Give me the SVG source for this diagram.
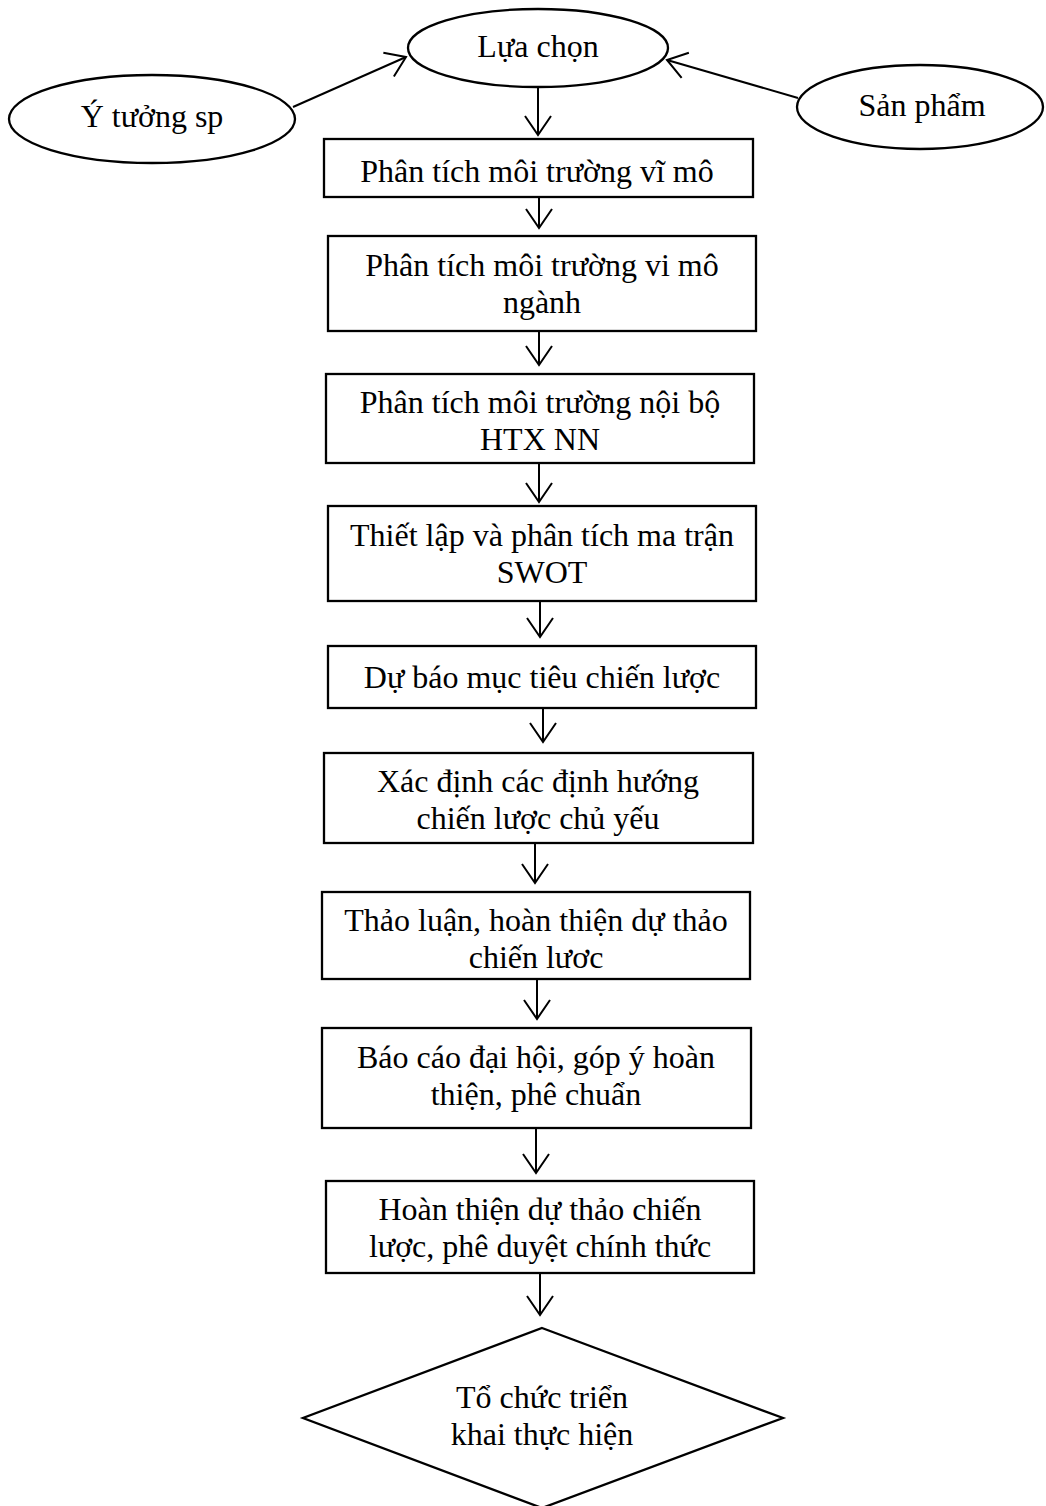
<svg xmlns="http://www.w3.org/2000/svg" width="1046" height="1506" viewBox="0 0 1046 1506">
  <style>
    .shape { fill: #ffffff; stroke: #000000; stroke-width: 2.3; }
    .label { font-family: "Liberation Serif", "Times New Roman", serif; font-size: 32px; fill: #000000; text-anchor: middle; }
    .link { fill: none; stroke: #000000; stroke-width: 2; }
  </style>
  <defs>
    <marker id="open-arrow" markerUnits="userSpaceOnUse" markerWidth="40" markerHeight="40" refX="0" refY="0" orient="auto" overflow="visible">
      <path d="M -19 -13 L 0 0 L -19 13" fill="none" stroke="#000000" stroke-width="2"/>
    </marker>
  </defs>
  <rect width="1046" height="1506" fill="#ffffff"/>

  <!-- connectors -->
  <g id="connectors">
    <line class="link" x1="293" y1="107" x2="406" y2="57" marker-end="url(#open-arrow)"/>
    <line class="link" x1="798" y1="98" x2="667" y2="60" marker-end="url(#open-arrow)"/>
    <line class="link" x1="538" y1="87" x2="538" y2="135" marker-end="url(#open-arrow)"/>
    <line class="link" x1="539" y1="197" x2="539" y2="228" marker-end="url(#open-arrow)"/>
    <line class="link" x1="539" y1="331" x2="539" y2="365" marker-end="url(#open-arrow)"/>
    <line class="link" x1="539" y1="463" x2="539" y2="502" marker-end="url(#open-arrow)"/>
    <line class="link" x1="540" y1="601" x2="540" y2="637" marker-end="url(#open-arrow)"/>
    <line class="link" x1="543" y1="708" x2="543" y2="742" marker-end="url(#open-arrow)"/>
    <line class="link" x1="535" y1="843" x2="535" y2="883" marker-end="url(#open-arrow)"/>
    <line class="link" x1="537" y1="979" x2="537" y2="1019" marker-end="url(#open-arrow)"/>
    <line class="link" x1="536" y1="1128" x2="536" y2="1173" marker-end="url(#open-arrow)"/>
    <line class="link" x1="540" y1="1273" x2="540" y2="1315" marker-end="url(#open-arrow)"/>
  </g>

  <!-- start ellipses -->
  <g id="node-lua-chon">
    <ellipse class="shape" cx="538" cy="48" rx="130" ry="39"/>
    <text class="label" x="538" y="57">Lựa chọn</text>
  </g>
  <g id="node-y-tuong">
    <ellipse class="shape" cx="152" cy="119" rx="143" ry="44"/>
    <text class="label" x="152" y="127">Ý tưởng sp</text>
  </g>
  <g id="node-san-pham">
    <ellipse class="shape" cx="920" cy="107" rx="123" ry="42"/>
    <text class="label" x="922" y="116">Sản phẩm</text>
  </g>

  <!-- process steps -->
  <g id="step-vi-mo">
    <rect class="shape" x="324" y="139" width="429" height="58"/>
    <text class="label" x="537" y="182">Phân tích môi trường vĩ mô</text>
  </g>
  <g id="step-vi-mo-nganh">
    <rect class="shape" x="328" y="236" width="428" height="95"/>
    <text class="label" x="542" y="276">Phân tích môi trường vi mô</text>
    <text class="label" x="542" y="313">ngành</text>
  </g>
  <g id="step-noi-bo">
    <rect class="shape" x="326" y="374" width="428" height="89"/>
    <text class="label" x="540" y="413">Phân tích môi trường nội bộ</text>
    <text class="label" x="540" y="450">HTX NN</text>
  </g>
  <g id="step-swot">
    <rect class="shape" x="328" y="506" width="428" height="95"/>
    <text class="label" x="542" y="546">Thiết lập và phân tích ma trận</text>
    <text class="label" x="542" y="583">SWOT</text>
  </g>
  <g id="step-muc-tieu">
    <rect class="shape" x="328" y="646" width="428" height="62"/>
    <text class="label" x="542" y="688">Dự báo mục tiêu chiến lược</text>
  </g>
  <g id="step-dinh-huong">
    <rect class="shape" x="324" y="753" width="429" height="90"/>
    <text class="label" x="538" y="792">Xác định các định hướng</text>
    <text class="label" x="538" y="829">chiến lược chủ yếu</text>
  </g>
  <g id="step-thao-luan">
    <rect class="shape" x="322" y="892" width="428" height="87"/>
    <text class="label" x="536" y="931">Thảo luận, hoàn thiện dự thảo</text>
    <text class="label" x="536" y="968">chiến lươc</text>
  </g>
  <g id="step-bao-cao">
    <rect class="shape" x="322" y="1028" width="429" height="100"/>
    <text class="label" x="536" y="1068">Báo cáo đại hội, góp ý hoàn</text>
    <text class="label" x="536" y="1105">thiện, phê chuẩn</text>
  </g>
  <g id="step-phe-duyet">
    <rect class="shape" x="326" y="1181" width="428" height="92"/>
    <text class="label" x="540" y="1220">Hoàn thiện dự thảo chiến</text>
    <text class="label" x="540" y="1257">lược, phê duyệt chính thức</text>
  </g>

  <!-- final decision -->
  <g id="step-trien-khai">
    <polygon class="shape" points="542,1328 783,1418 542,1508 303,1418"/>
    <text class="label" x="542" y="1408">Tổ chức triển</text>
    <text class="label" x="542" y="1445">khai thực hiện</text>
  </g>
</svg>
